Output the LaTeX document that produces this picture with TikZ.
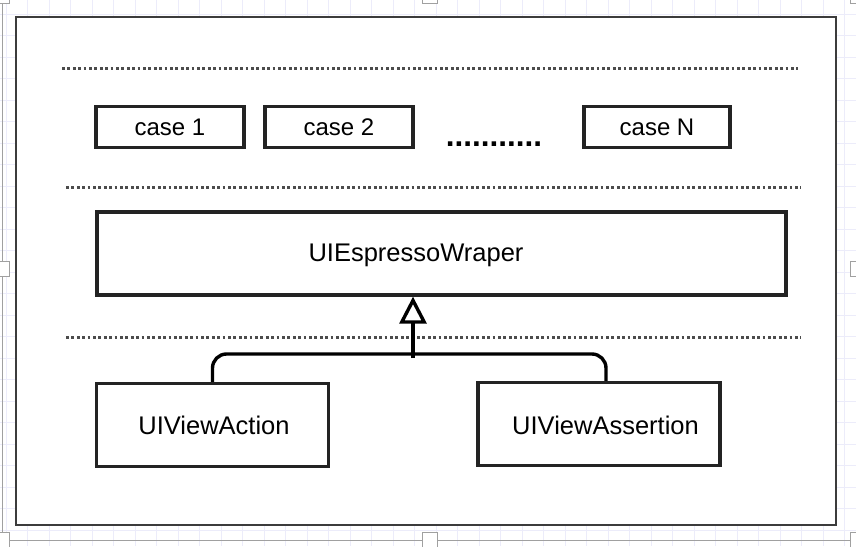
\documentclass[tikz,border=0pt]{standalone}
\usepackage{fontspec}
\setmainfont{Liberation Sans}
\usetikzlibrary{arrows.meta}
\definecolor{gridcol}{RGB}{236,236,250}
\definecolor{framecol}{RGB}{60,60,60}
\definecolor{selcol}{RGB}{160,160,160}
\definecolor{boxcol}{RGB}{35,35,35}
\begin{document}
\begin{tikzpicture}[x=1pt,y=-1pt,
  gridline/.style={draw=gridcol, line width=0.8pt},
  handle/.style={draw=selcol, fill=white, line width=1pt, minimum width=15pt, minimum height=15pt, inner sep=0pt},
  dotline/.style={draw=black!70, line width=3pt, dash pattern=on 2.7pt off 2.7pt},
  box/.style={draw=boxcol, line width=3.3pt, fill=white, inner sep=0pt},
  lbl/.style={inner sep=0pt, font=\fontsize{24}{28}\selectfont},
  biglbl/.style={inner sep=0pt, font=\fontsize{25.5}{30}\selectfont},
  conn/.style={draw=black, line width=3.4pt}]
\useasboundingbox (0,0) rectangle (856,546);
\clip (0,0) rectangle (856,546);
\fill[white] (0,0) rectangle (856,546);
% background grid
\foreach \i in {0,...,40} { \draw[gridline] ({6+21.5*\i},0) -- ({6+21.5*\i},546); }
\foreach \j in {0,...,26} { \draw[gridline] (0,{14+21.5*\j}) -- (856,{14+21.5*\j}); }
% selection outline and handles
\draw[selcol, line width=1.5pt] (2.5,-4) rectangle (858.5,540.5);
\foreach \hx in {2,430,858} { \foreach \hy in {-4,540} { \node[handle] at (\hx,\hy) {}; } }
\node[handle] at (2,268.5) {};
\node[handle] at (858,268.5) {};
% frame
\draw[framecol, line width=2.8pt, fill=white] (16,17) rectangle (836,525);
% dotted separators
\draw[dotline] (62,68) -- (798,68);
\draw[dotline] (66,187) -- (801,187);
\draw[dotline] (66,337) -- (801,337);
% cases
\node[box, minimum width=148pt, minimum height=41pt] (c1) at (170,127) {};
\node[lbl] at (c1.center) {case 1};
\node[box, minimum width=148pt, minimum height=41pt] (c2) at (339,127) {};
\node[lbl] at (c2.center) {case 2};
\node[box, minimum width=146pt, minimum height=41pt] (cn) at (657,127) {};
\node[lbl] at (cn.center) {case N};
\node[inner sep=0pt, anchor=base, font=\fontsize{31.5}{34}\selectfont\bfseries] (dots) at (494,146) {...........};
% wrapper
\node[box, minimum width=689pt, minimum height=83pt] (esp) at (441.5,253.5) {};
\node[biglbl] (espt) at (416,255) {UIEspressoWraper};
% bottom boxes
\node[box, minimum width=232pt, minimum height=83pt] (act) at (212.5,425) {};
\node[biglbl] at (214,425) {UIViewAction};
\node[box, minimum width=242pt, minimum height=83pt] (asr) at (599,424) {};
\node[biglbl] at (605.5,425) {UIViewAssertion};
% connectors
\coordinate (j) at (413,354);
\coordinate (asrtop) at ([xshift=7pt]asr.north);
\draw[conn, rounded corners=14pt] (act.north) |- (j) -| (asrtop);
\draw[conn, -{Triangle[open, length=27pt, width=27pt, line width=3.4pt]}] ([yshift=-4pt]j) -- (j |- esp.south);
\end{tikzpicture}
\end{document}
